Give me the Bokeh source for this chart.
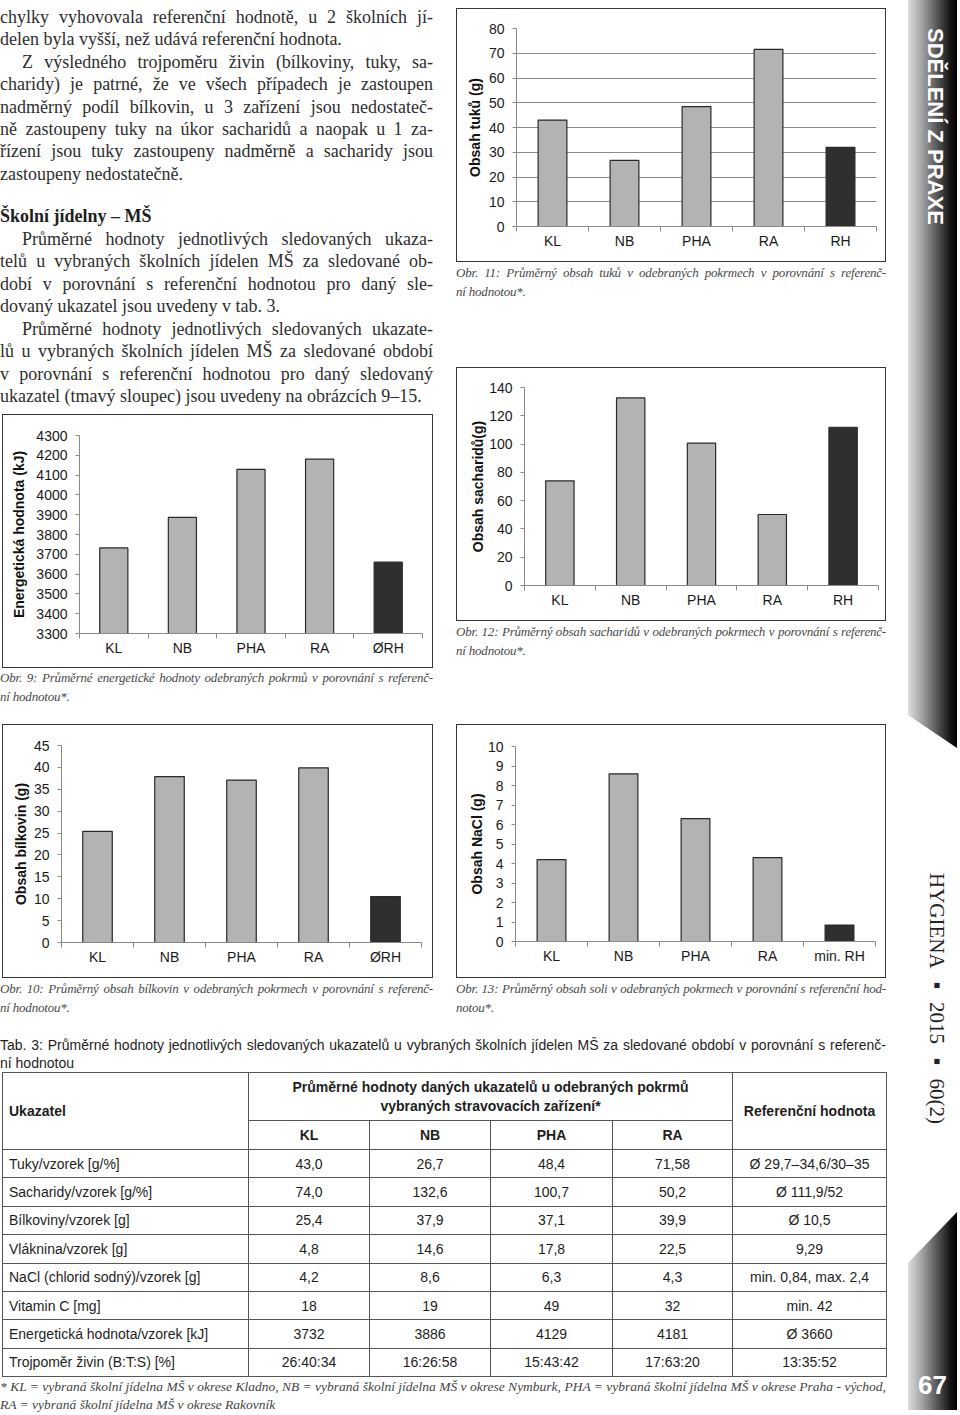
from bokeh.plotting import figure
from bokeh.models import Range1d, FixedTicker, Div, Spacer
from bokeh.layouts import row, column
from bokeh.embed import file_html
from bokeh.resources import INLINE

# ---------------- data ----------------
energy_labels = ["KL", "NB", "PHA", "RA", "ØRH"]
energy_vals = [3732, 3886, 4129, 4181, 3660]
energy_ticks = [3300, 3400, 3500, 3600, 3700, 3800, 3900, 4000, 4100, 4200, 4300]

protein_labels = ["KL", "NB", "PHA", "RA", "ØRH"]
protein_vals = [25.4, 37.9, 37.1, 39.9, 10.5]
protein_ticks = [0, 5, 10, 15, 20, 25, 30, 35, 40, 45]

fat_labels = ["KL", "NB", "PHA", "RA", "RH"]
fat_vals = [43.0, 26.7, 48.4, 71.58, 32.0]
fat_ticks = [0, 10, 20, 30, 40, 50, 60, 70, 80]

carb_labels = ["KL", "NB", "PHA", "RA", "RH"]
carb_vals = [74.0, 132.6, 100.7, 50.2, 111.9]
carb_ticks = [0, 20, 40, 60, 80, 100, 120, 140]

salt_labels = ["KL", "NB", "PHA", "RA", "min. RH"]
salt_vals = [4.2, 8.6, 6.3, 4.3, 0.84]
salt_ticks = [0, 1, 2, 3, 4, 5, 6, 7, 8, 9, 10]

table_cols = ["KL", "NB", "PHA", "RA"]
table_rows = ["Tuky/vzorek [g/%]", "Sacharidy/vzorek [g/%]", "Bílkoviny/vzorek [g]",
              "Vláknina/vzorek [g]", "NaCl (chlorid sodný)/vzorek [g]", "Vitamin C [mg]",
              "Energetická hodnota/vzorek [kJ]", "Trojpoměr živin (B:T:S) [%]"]
table_kl = ["43,0", "74,0", "25,4", "4,8", "4,2", "18", "3732", "26:40:34"]
table_nb = ["26,7", "132,6", "37,9", "14,6", "8,6", "19", "3886", "16:26:58"]
table_pha = ["48,4", "100,7", "37,1", "17,8", "6,3", "49", "4129", "15:43:42"]
table_ra = ["71,58", "50,2", "39,9", "22,5", "4,3", "32", "4181", "17:63:20"]
table_ref = ["Ø 29,7–34,6/30–35", "Ø 111,9/52", "Ø 10,5", "9,29", "min. 0,84, max. 2,4",
             "min. 42", "Ø 3660", "13:35:52"]

SANS = "Liberation Sans"
SERIF = "'Liberation Serif', 'Times New Roman', serif"
M0 = (0, 0, 0, 0)


def bar_chart(vals, labels, ticks, ylabel, width, ml, mr, mt, mb, bar_w, lab_sd, grid=False, left_margin=0):
    n = len(vals)
    p = figure(width=width, height=254, x_range=Range1d(-0.5, n - 0.5),
               y_range=Range1d(ticks[0], ticks[-1]), output_backend="svg",
               toolbar_location=None, title=None,
               min_border_left=ml, min_border_right=mr, min_border_top=mt, min_border_bottom=mb,
               margin=(0, 0, 0, left_margin),
               styles={"border": "1px solid #353535"})
    if "frame_align" in p.properties():
        p.frame_align = False
    xs = list(range(n))
    colors = ["#b3b3b3"] * (n - 1) + ["#2f2f2f"]
    p.vbar(x=xs, top=vals, bottom=ticks[0], width=bar_w, fill_color=colors,
           line_color="#2a2a2a", line_width=1.2)
    p.outline_line_color = None
    p.xgrid.grid_line_color = None
    if grid:
        p.ygrid.grid_line_color = "#8a8a8a"
        p.ygrid.grid_line_width = 1
    else:
        p.ygrid.grid_line_color = None
    xa = p.xaxis[0]
    xa.ticker = FixedTicker(ticks=xs, minor_ticks=[i - 0.5 for i in range(n + 1)])
    xa.major_label_overrides = {i: lab for i, lab in enumerate(labels)}
    xa.major_tick_line_color = None
    xa.minor_tick_line_color = "#8a8a8a"
    xa.minor_tick_out = 5
    xa.minor_tick_in = 0
    xa.axis_line_color = "#8a8a8a"
    xa.major_label_standoff = 0
    xa.major_label_text_font = SANS
    xa.major_label_text_font_size = "14px"
    xa.major_label_text_color = "#1a1a1a"
    ya = p.yaxis[0]
    ya.ticker = FixedTicker(ticks=ticks, minor_ticks=[])
    ya.axis_line_color = "#8a8a8a"
    ya.major_tick_line_color = "#8a8a8a"
    ya.major_tick_out = 4
    ya.major_tick_in = 0
    ya.minor_tick_line_color = None
    ya.major_label_standoff = 8
    ya.major_label_text_font = SANS
    ya.major_label_text_font_size = "14px"
    ya.major_label_text_color = "#1a1a1a"
    ya.axis_label = ylabel
    ya.axis_label_text_font = SANS
    ya.axis_label_text_font_style = "bold"
    ya.axis_label_text_font_size = "14px"
    ya.axis_label_text_color = "#111111"
    ya.axis_label_standoff = lab_sd
    return p


def caption(lines, width, height, pad):
    html = ('<div style="font-family:%s;font-style:italic;font-size:13px;letter-spacing:-0.2px;'
            'line-height:19px;color:#4a4a4a;padding-top:%dpx;width:%dpx;">') % (SERIF, pad, width)
    for i, ln in enumerate(lines):
        if i < len(lines) - 1:
            html += '<div style="white-space:nowrap;text-align:justify;text-align-last:justify;">%s</div>' % ln
        else:
            html += '<div style="white-space:nowrap;">%s</div>' % ln
    html += '</div>'
    return Div(text=html, width=width, height=height, margin=M0)


# ---------------- body text ----------------
paragraphs = [
    (False, False, ["chylky vyhovovala referenční hodnotě, u 2 školních jí-",
                    "delen byla vyšší, než udává referenční hodnota."]),
    (True, False, ["Z výsledného trojpoměru živin (bílkoviny, tuky, sa-",
                   "charidy) je patrné, že ve všech případech je zastoupen",
                   "nadměrný podíl bílkovin, u 3 zařízení jsou nedostateč-",
                   "ně zastoupeny tuky na úkor sacharidů a naopak u 1 za-",
                   "řízení jsou tuky zastoupeny nadměrně a sacharidy jsou",
                   "zastoupeny nedostatečně."]),
    (False, True, ["Školní jídelny – MŠ"]),
    (True, False, ["Průměrné hodnoty jednotlivých sledovaných ukaza-",
                   "telů u vybraných školních jídelen MŠ za sledované ob-",
                   "dobí v porovnání s referenční hodnotou pro daný sle-",
                   "dovaný ukazatel jsou uvedeny v tab. 3."]),
    (True, False, ["Průměrné hodnoty jednotlivých sledovaných ukazate-",
                   "lů u vybraných školních jídelen MŠ za sledované období",
                   "v porovnání s referenční hodnotou pro daný sledovaný",
                   "ukazatel (tmavý sloupec) jsou uvedeny na obrázcích 9–15."]),
]

body = '<div style="font-family:%s;font-size:18px;color:#2e2e2e;width:433px;padding-top:6px;">' % SERIF
for k, (indent, heading, lines) in enumerate(paragraphs):
    for i, ln in enumerate(lines):
        st = "white-space:nowrap;"
        if heading:
            st += "font-weight:bold;color:#1e1e1e;margin-top:20px;line-height:22.5px;"
        else:
            st += "line-height:%s;" % ("22.4px" if k < 2 else "22.5px")
        if indent and i == 0:
            st += "text-indent:22px;"
        if i < len(lines) - 1:
            st += "text-align:justify;text-align-last:justify;"
        body += '<div style="%s">%s</div>' % (st, ln)
body += '</div>'
text_div = Div(text=body, width=435, height=414, margin=M0)

# ---------------- charts ----------------
fig9 = bar_chart(energy_vals, energy_labels, energy_ticks, "Energetická hodnota (kJ)", 431, 76, 12, 20, 36, 0.41, 6, left_margin=2)
fig10 = bar_chart(protein_vals, protein_labels, protein_ticks, "Obsah bílkovin (g)", 431, 58, 13, 20, 37, 0.41, 2, left_margin=2)
fig11 = bar_chart(fat_vals, fat_labels, fat_ticks, "Obsah tuků (g)", 430, 59, 11, 19, 37, 0.40, 3, grid=True)
fig12 = bar_chart(carb_vals, carb_labels, carb_ticks, "Obsah sacharidů(g)", 430, 67, 9, 19, 37, 0.40, 0)
fig13 = bar_chart(salt_vals, salt_labels, salt_ticks, "Obsah NaCl (g)", 430, 58, 12, 21, 38, 0.40, 0)

cap9 = caption(["Obr. 9: Průměrné energetické hodnoty odebraných pokrmů v porovnání s referenč-",
                "ní hodnotou*."], 433, 56, 0)
cap10 = caption(["Obr. 10: Průměrný obsah bílkovin v odebraných pokrmech v porovnání s referenč-",
                 "ní hodnotou*."], 433, 47, 1)
cap11 = caption(["Obr. 11: Průměrný obsah tuků v odebraných pokrmech v porovnání s referenč-",
                 "ní hodnotou*."], 430, 105, 1)
cap12 = caption(["Obr. 12: Průměrný obsah sacharidů v odebraných pokrmech v porovnání s referenč-",
                 "ní hodnotou*."], 430, 103, 1)
cap13 = caption(["Obr. 13: Průměrný obsah soli v odebraných pokrmech v porovnání s referenční hod-",
                 "notou*."], 430, 47, 1)

# ---------------- table ----------------
bd = "border:1px solid #555;"
tbl = '<div style="font-family:%s,Arial,sans-serif;color:#1e1e1e;width:886px;">' % SANS
tbl += ('<div style="padding-top:11px;font-size:14px;line-height:18px;">'
        '<div style="white-space:nowrap;text-align:justify;text-align-last:justify;">'
        'Tab. 3: Průměrné hodnoty jednotlivých sledovaných ukazatelů u vybraných školních jídelen MŠ za sledované období v porovnání s referenč-</div>'
        '<div>ní hodnotou</div></div>')
tbl += '<table style="border-collapse:collapse;table-layout:fixed;width:884px;margin-left:2px;font-size:14px;">'
tbl += ('<colgroup><col style="width:246px"><col style="width:121px"><col style="width:121px">'
        '<col style="width:122px"><col style="width:120px"><col style="width:154px"></colgroup>')
tbl += ('<tr style="height:48px;"><th rowspan="2" style="%stext-align:left;padding-left:6px;">Ukazatel</th>'
        '<th colspan="4" style="%sline-height:19px;">Průměrné hodnoty daných ukazatelů u odebraných pokrmů<br>'
        'vybraných stravovacích zařízení*</th>'
        '<th rowspan="2" style="%s">Referenční hodnota</th></tr>') % (bd, bd, bd)
tbl += '<tr style="height:29px;">' + "".join('<th style="%s">%s</th>' % (bd, c) for c in table_cols) + '</tr>'
for i, lab in enumerate(table_rows):
    tbl += '<tr style="height:28.4px;">'
    tbl += '<td style="%stext-align:left;padding:0 0 0 6px;white-space:nowrap;">%s</td>' % (bd, lab)
    for colvals in (table_kl, table_nb, table_pha, table_ra, table_ref):
        tbl += '<td style="%stext-align:center;padding:0;white-space:nowrap;">%s</td>' % (bd, colvals[i])
    tbl += '</tr>'
tbl += '</table>'
tbl += ('<div style="font-family:%s;font-style:italic;font-size:13.5px;line-height:18px;color:#444;padding-top:1px;">'
        '<div style="white-space:nowrap;text-align:justify;text-align-last:justify;">'
        '* KL = vybraná školní jídelna MŠ v okrese Kladno, NB = vybraná školní jídelna MŠ v okrese Nymburk, '
        'PHA = vybraná školní jídelna MŠ v okrese Praha - východ,</div>'
        '<div>RA = vybraná školní jídelna MŠ v okrese Rakovník</div></div>') % SERIF
tbl += '</div>'
table_div = Div(text=tbl, width=886, height=388, margin=M0)

# ---------------- sidebar ----------------
grad = "linear-gradient(to right,#dedede 0%,#a4a4a4 28%,#555 60%,#111 88%,#000 100%)"
side = ('<div style="position:relative;width:58px;height:1413px;overflow:hidden;">'
        '<div style="position:absolute;left:8px;top:0;width:49px;height:748px;background:%s;'
        'clip-path:polygon(0 0,100%% 0,100%% 100%%,0 715px);"></div>'
        '<div style="position:absolute;left:22px;top:28px;writing-mode:vertical-rl;color:#fff;'
        'font-family:%s,Arial,sans-serif;font-weight:bold;font-size:22px;line-height:26px;white-space:nowrap;">SDĚLENÍ Z PRAXE</div>'
        '<div style="position:absolute;left:24px;top:873px;writing-mode:vertical-rl;color:#222;'
        'font-family:%s;font-size:21px;line-height:26px;white-space:nowrap;">HYGIENA ▪ 2015 ▪ 60(2)</div>'
        '<div style="position:absolute;left:8px;top:1212px;width:49px;height:198px;background:%s;'
        'clip-path:polygon(0 51px,100%% 0,100%% 100%%,0 100%%);"></div>'
        '<div style="position:absolute;left:8px;top:1370px;width:49px;text-align:center;color:#fff;'
        'font-family:%s,Arial,sans-serif;font-weight:bold;font-size:26px;line-height:30px;">67</div>'
        '</div>') % (grad, SANS, SERIF, grad, SANS)
side_div = Div(text=side, width=58, height=1413, margin=M0)

left_col = column(text_div, fig9, cap9, fig10, cap10)
right_col = column(Spacer(width=10, height=8), fig11, cap11, fig12, cap12, fig13, cap13)
top = row(left_col, Spacer(width=21, height=10), right_col)
main = column(top, table_div)
root = row(main, Spacer(width=14, height=10), side_div)

open("out.html", "w").write(file_html(root, INLINE))
